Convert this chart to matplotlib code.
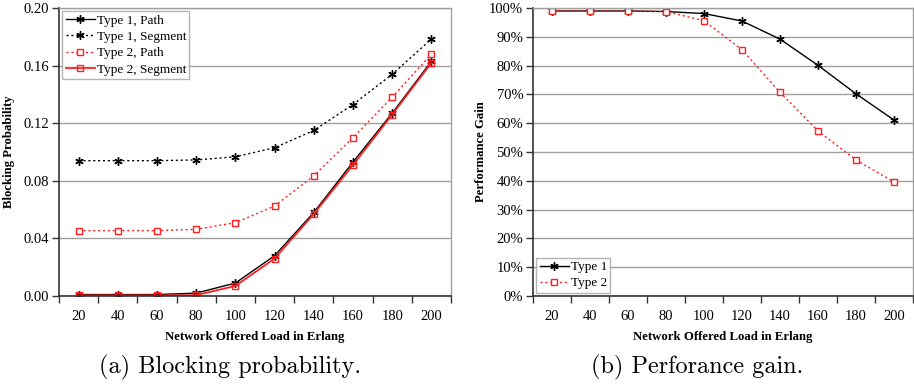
import numpy as np
import matplotlib.pyplot as plt
from matplotlib.ticker import FixedLocator, NullFormatter, FuncFormatter

# offered load categories (Erlang)
loads = [20, 40, 60, 80, 100, 120, 140, 160, 180, 200]

# (a) blocking probability
t1_path = [0.001, 0.001, 0.001, 0.002, 0.009, 0.028, 0.058, 0.093, 0.127, 0.163]
t1_segment = [0.094, 0.094, 0.094, 0.0945, 0.0967, 0.103, 0.115, 0.133, 0.154, 0.1785]
t2_path = [0.0454, 0.0454, 0.0454, 0.0463, 0.0509, 0.0625, 0.0835, 0.110, 0.138, 0.168]
t2_segment = [0.0004, 0.0004, 0.0004, 0.0006, 0.007, 0.026, 0.057, 0.091, 0.126, 0.162]
ticks_a = [0.00, 0.04, 0.08, 0.12, 0.16, 0.20]

# (b) performance gain (%)
gain_t1 = [99.0, 99.0, 99.0, 98.8, 98.1, 95.5, 89.2, 80.1, 70.2, 61.1]
gain_t2 = [99.0, 99.0, 99.0, 98.8, 95.6, 85.5, 70.7, 57.3, 47.2, 39.6]
ticks_b = [0, 10, 20, 30, 40, 50, 60, 70, 80, 90, 100]

SERIF = ['Liberation Serif', 'DejaVu Serif']
RED = '#ff2020'
STAR = (6, 2, 0)

plt.rcParams['font.family'] = SERIF

fig = plt.figure(figsize=(9.14, 3.85), dpi=100)
ax_a = fig.add_axes([0.0646, 0.2312, 0.4288, 0.7478])
ax_b = fig.add_axes([0.5832, 0.2312, 0.4158, 0.7478])

x = np.arange(len(loads))


def style_axis(ax, yticks):
    ax.set_xlim(-0.5, len(loads) - 0.5)
    ax.set_ylim(yticks[0], yticks[-1])
    ax.set_yticks(yticks)
    ax.xaxis.set_major_locator(FixedLocator(np.arange(-0.5, len(loads), 1.0)))
    ax.xaxis.set_major_formatter(NullFormatter())
    ax.xaxis.set_minor_locator(FixedLocator(x))
    ax.set_xticklabels([str(v) for v in loads], minor=True)
    ax.tick_params(axis='x', which='major', direction='out', length=5, width=1, color='#333333')
    ax.tick_params(axis='x', which='minor', length=0, pad=10, labelsize=10.5)
    ax.tick_params(axis='y', direction='out', length=5, width=1, color='#333333', labelsize=10.5, pad=2)
    ax.grid(axis='y', color='#a0a0a0', linewidth=1)
    ax.set_axisbelow(True)
    for side in ('left', 'bottom'):
        ax.spines[side].set_color('#333333')
        ax.spines[side].set_linewidth(1.2)
    for side in ('right', 'top'):
        ax.spines[side].set_color('#a0a0a0')
        ax.spines[side].set_linewidth(1)
    ax.set_xlabel('Network Offered Load in Erlang', fontweight='bold', fontsize=9.2, labelpad=6)


def style_legend(leg):
    leg.get_frame().set_edgecolor('#a0a0a0')
    leg.get_frame().set_linewidth(1)


leg_kw = dict(fontsize=9.5, frameon=True, fancybox=False, handlelength=2.2, borderpad=0.25,
              labelspacing=0.3, handletextpad=0.15, borderaxespad=0.25)

# ---- (a) ----
ax_a.plot(x, t1_path, color='black', lw=1, marker=STAR, ms=6, mew=1, label='Type 1, Path')
ax_a.plot(x, t1_segment, color='black', lw=1, ls=(0, (1.5, 2)), marker=STAR, ms=6, mew=1,
          label='Type 1, Segment')
ax_a.plot(x, t2_path, color=RED, lw=1, ls=(0, (1.5, 2)), marker='s', ms=5, mfc='white', mec=RED,
          mew=1, label='Type 2, Path')
ax_a.plot(x, t2_segment, color=RED, lw=1.3, marker='s', ms=5, mfc='none', mec=RED, mew=1,
          label='Type 2, Segment')
style_axis(ax_a, ticks_a)
ax_a.yaxis.set_major_formatter(FuncFormatter(lambda v, p: f'{v:.2f}'))
ax_a.set_ylabel('Blocking Probability', fontweight='bold', fontsize=9.2)
ax_a.yaxis.set_label_coords(-0.112, 0.5)
style_legend(ax_a.legend(loc='upper left', **leg_kw))

# ---- (b) ----
ax_b.plot(x, gain_t1, color='black', lw=1, marker=STAR, ms=6, mew=1, label='Type 1')
ax_b.plot(x, gain_t2, color=RED, lw=1, ls=(0, (1.5, 2)), marker='s', ms=5, mfc='white', mec=RED,
          mew=1, label='Type 2')
style_axis(ax_b, ticks_b)
ax_b.yaxis.set_major_formatter(FuncFormatter(lambda v, p: f'{v:.0f}%'))
ax_b.set_ylabel('Performance Gain', fontweight='bold', fontsize=9.2)
ax_b.yaxis.set_label_coords(-0.121, 0.5)
style_legend(ax_b.legend(loc='lower left', **leg_kw))

# captions
fig.text(0.252, 0.045, '(a) Blocking probability.', ha='center', va='center', family='cmr10', fontsize=17.5)
fig.text(0.763, 0.045, '(b) Perforance gain.', ha='center', va='center', family='cmr10', fontsize=17.5)

fig.savefig('out.png', dpi=100)
